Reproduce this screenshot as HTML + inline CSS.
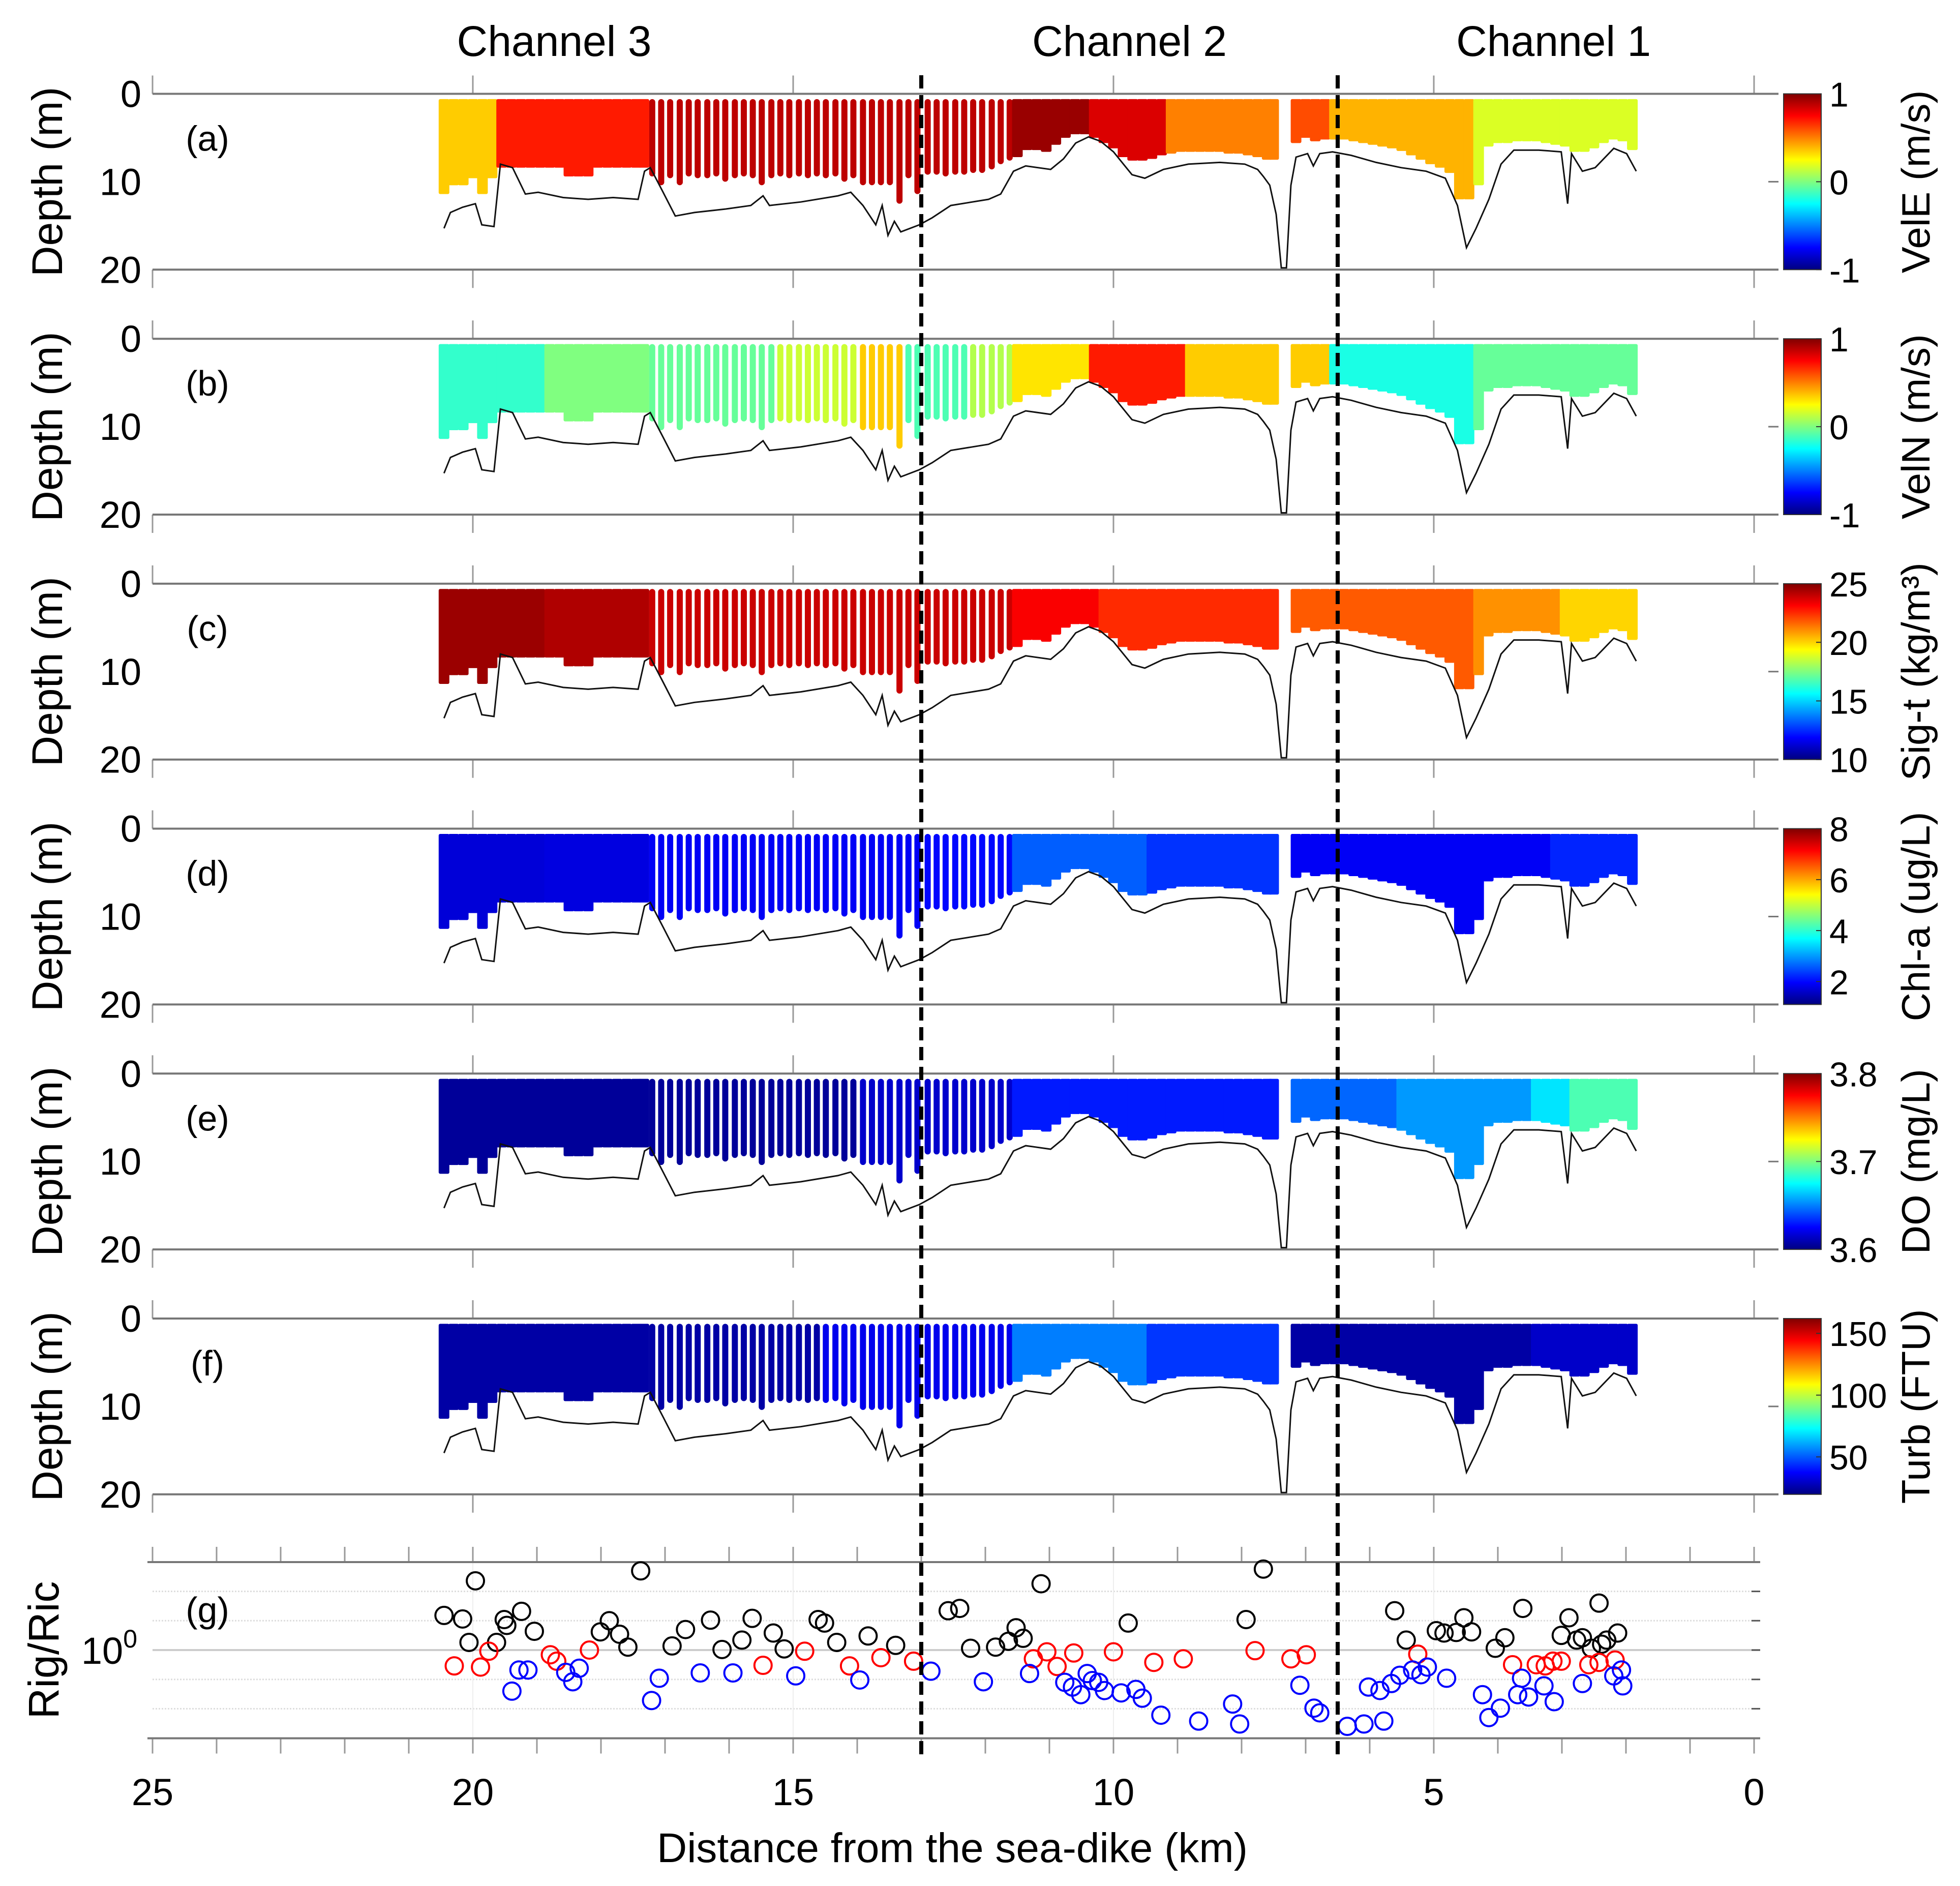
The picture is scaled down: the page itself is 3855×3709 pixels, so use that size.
<!DOCTYPE html>
<html><head><meta charset="utf-8">
<style>
html,body{margin:0;padding:0;background:#fff;}
svg{display:block;font-family:"Liberation Sans",Arial,sans-serif;}
</style></head>
<body>
<svg id="fig" width="3855" height="3709" viewBox="0 0 3855 3709" xmlns="http://www.w3.org/2000/svg">
<defs>
<linearGradient id="jet" x1="0" y1="1" x2="0" y2="0">
<stop offset="0" stop-color="#000080"/><stop offset="0.125" stop-color="#0000ff"/>
<stop offset="0.375" stop-color="#00ffff"/><stop offset="0.625" stop-color="#ffff00"/>
<stop offset="0.875" stop-color="#ff0000"/><stop offset="1" stop-color="#800000"/>
</linearGradient>
</defs>
<g id="root"></g>
</svg>
<script>
// ---------- data ----------
const channelNames = ["Channel 3","Channel 2","Channel 1"];
const channelKm = [18.73, 9.75, 3.13];
const xTicks = [25,20,15,10,5,0];
const dividerKm = [13.0, 6.5];

const profKm = [20.45,20.3,20.15,20.0,19.85,19.7,19.55,19.4,19.25,19.1,18.95,
18.8,18.65,18.5,18.35,18.2,18.05,17.9,17.75,17.6,17.45,17.33,
17.2,17.06,16.92,16.77,16.63,16.49,16.34,16.2,16.06,15.91,15.77,15.63,15.49,15.34,15.2,15.06,14.91,14.77,14.63,14.49,14.34,14.2,14.06,13.91,13.77,13.63,13.49,13.34,13.2,13.06,
12.9,12.76,12.62,12.47,12.33,12.19,12.05,11.9,11.76,11.62,
11.5,11.35,11.2,11.05,10.9,10.75,10.6,10.45,10.3,10.15,10.0,9.85,9.7,9.55,9.4,9.25,9.1,8.95,8.8,8.65,8.5,8.35,8.2,8.05,7.9,7.75,7.6,7.5,
7.15,7.0,6.85,6.7,6.55,6.4,6.25,6.1,5.95,5.8,5.65,5.5,5.35,5.2,5.05,4.9,4.75,4.6,4.45,4.3,4.15,4.0,3.85,3.7,3.55,3.4,3.25,3.1,2.95,2.8,2.65,2.5,2.35,2.2,2.05,1.9];
const profBot = [11.4,10.4,10.4,9.6,11.4,9.6,8.4,8.4,8.4,8.4,8.4,
8.4,8.4,9.4,9.4,9.4,8.4,8.4,8.4,8.4,8.4,8.4,
9.4,10.4,9.6,10.4,9.4,9.6,9.6,9.4,10.0,9.6,9.4,9.6,10.4,9.6,9.4,9.6,9.4,9.6,9.4,9.6,9.4,10.0,9.6,10.4,10.4,10.4,10.4,12.5,9.6,11.4,
9.2,9.2,9.4,9.2,9.2,9.0,9.0,8.6,8.0,7.6,
7.2,6.4,6.4,6.6,5.8,5.0,4.6,4.6,5.0,5.6,6.2,7.2,7.6,7.6,7.4,7.0,6.8,6.6,6.6,6.6,6.6,6.6,6.8,6.8,7.0,7.2,7.5,7.5,
5.6,5.0,5.4,5.2,5.2,5.2,5.4,5.6,5.8,6.0,6.2,6.5,7.0,7.5,8.0,8.4,9.0,12.0,12.0,10.4,6.0,5.6,5.6,5.4,5.4,5.4,5.6,5.8,6.0,6.6,6.6,6.2,5.6,5.2,5.4,6.4];
const contiguousRanges = [[20.46,18.9],[18.81,17.3],[11.51,7.45],[7.16,1.85]];

const bathKm = [20.45,20.35,20.16,19.96,19.86,19.67,19.57,19.38,19.18,18.98,18.59,18.20,17.81,17.42,17.32,17.23,17.03,16.84,16.54,16.05,15.66,15.47,15.37,14.88,14.30,14.10,13.91,13.71,13.61,13.52,13.42,13.32,13.03,12.83,12.54,11.95,11.76,11.56,11.37,10.98,10.78,10.59,10.39,10.20,10.00,9.80,9.71,9.51,9.22,8.83,8.34,7.95,7.75,7.66,7.56,7.46,7.38,7.30,7.23,7.15,6.97,6.88,6.78,6.58,6.29,5.90,5.51,5.12,4.82,4.63,4.49,4.34,4.14,3.95,3.75,3.36,3.01,2.91,2.85,2.68,2.48,2.19,1.99,1.84];
const bathDep = [15.3,13.5,12.9,12.5,14.9,15.1,8.0,8.4,11.4,11.2,11.8,12.0,11.8,12.0,8.8,8.4,11.2,13.9,13.5,13.1,12.7,11.6,12.7,12.3,11.6,11.2,12.7,14.9,12.7,16.1,14.5,15.7,14.9,14.1,12.7,12.0,11.4,8.8,8.2,8.6,7.4,5.6,4.9,5.4,6.6,8.4,9.2,9.6,8.6,8.0,7.8,8.0,8.6,9.4,10.4,13.7,19.8,19.8,10.4,7.2,6.8,8.2,6.8,6.6,7.0,7.8,8.4,8.8,9.6,12.7,17.5,15.3,12.0,8.0,6.4,6.4,6.6,12.5,6.8,8.8,8.4,6.2,6.8,8.8];

const aKm=[20.45,19.6,17.25,11.5,10.4,9.2,7.2,6.6,4.3];
const aVal=[0.35,0.7,0.88,0.95,0.82,0.5,0.6,0.4,0.18];
const bKm=[20.45,18.8,17.25,15.3,14.0,13.3,12.3,11.5,10.4,8.8,7.2,6.6,4.3];
const bVal=[-0.15,0.0,-0.05,0.15,0.35,-0.1,0.1,0.3,0.7,0.35,0.35,-0.2,-0.05];
const cKm=[20.45,18.8,17.25,11.5,10.2,7.2,4.3,3.0];
const cVal=[24.6,24.3,23.9,23.2,22.5,21.8,21.0,20.0];
const dKm=[20.45,18.8,17.25,13.0,11.5,9.5,7.2,3.2];
const dVal=[1.7,1.75,1.9,2.0,2.6,2.3,1.9,2.2];
const eKm=[20.45,14.0,11.5,7.2,5.5,3.5,2.9];
const eVal=[3.605,3.615,3.63,3.645,3.655,3.67,3.69];
const fKm=[20.45,14.5,11.5,9.5,7.2,3.5];
const fVal=[25,35,55,45,25,30];

const panelLetters=["(a)","(b)","(c)","(d)","(e)","(f)"];
const cbLabels=["VelE (m/s)","VelN (m/s)","Sig-t (kg/m\u00B3)","Chl-a (ug/L)","DO (mg/L)","Turb (FTU)"];
const cbMin=[-1,-1,10,1.1,3.6,19.7];
const cbMax=[1,1,25,8,3.8,162];
const cbTicks=[[-1,0,1],[-1,0,1],[10,15,20,25],[2,4,6,8],[3.6,3.7,3.8],[50,100,150]];
const depthTicks=[0,10,20];

const blackKm=[20.45,20.16,20.06,19.96,19.63,19.51,19.47,19.24,19.04,18.01,17.87,17.71,17.58,17.38,16.89,16.68,16.29,16.11,15.80,15.64,15.31,15.14,14.61,14.51,14.32,13.83,13.40,12.58,12.40,12.23,11.84,11.64,11.52,11.41,11.13,9.77,7.93,7.66,5.61,5.43,4.96,4.84,4.65,4.53,4.41,4.04,3.89,3.61,3.01,2.89,2.77,2.68,2.54,2.42,2.30,2.13,2.38];
const blackLog=[0.59,0.53,0.13,1.18,0.13,0.52,0.42,0.66,0.32,0.31,0.50,0.27,0.05,1.35,0.07,0.35,0.51,0.01,0.17,0.54,0.29,0.02,0.52,0.46,0.13,0.24,0.08,0.67,0.71,0.03,0.05,0.15,0.38,0.20,1.13,0.46,0.52,1.38,0.67,0.17,0.33,0.29,0.30,0.55,0.31,0.03,0.21,0.71,0.25,0.55,0.17,0.21,0.03,0.80,0.17,0.29,0.10];
const redKm=[20.29,19.88,19.75,18.79,18.69,18.18,15.47,14.82,14.12,13.63,13.12,11.25,11.04,10.88,10.62,10.00,9.37,8.91,7.79,7.23,6.99,5.25,3.77,3.40,3.26,3.14,3.01,2.58,2.42,2.17];
const redLog=[-0.27,-0.29,-0.02,-0.08,-0.19,0.00,-0.26,-0.02,-0.27,-0.13,-0.19,-0.15,-0.03,-0.28,-0.05,-0.03,-0.21,-0.15,-0.01,-0.15,-0.08,-0.07,-0.25,-0.25,-0.27,-0.19,-0.19,-0.25,-0.21,-0.17];
const blueKm=[19.39,19.28,19.14,18.55,18.44,18.34,17.21,17.09,16.45,15.94,14.96,13.96,12.85,12.03,11.31,10.76,10.64,10.51,10.41,10.33,10.23,10.14,9.88,9.65,9.55,9.26,8.67,8.14,8.03,7.09,6.87,6.78,6.35,6.09,5.78,6.02,5.84,5.66,5.53,5.33,5.10,5.20,4.80,4.24,4.14,3.96,3.69,3.63,3.52,3.28,3.12,2.68,2.19,2.05,2.07];
const blueLog=[-0.70,-0.34,-0.34,-0.38,-0.54,-0.31,-0.86,-0.48,-0.39,-0.39,-0.44,-0.51,-0.36,-0.54,-0.40,-0.55,-0.63,-0.76,-0.40,-0.52,-0.55,-0.69,-0.73,-0.67,-0.82,-1.11,-1.21,-0.92,-1.26,-0.60,-0.99,-1.07,-1.30,-1.26,-1.21,-0.63,-0.69,-0.57,-0.43,-0.34,-0.29,-0.42,-0.48,-0.76,-1.15,-0.99,-0.76,-0.48,-0.80,-0.61,-0.88,-0.57,-0.44,-0.61,-0.34];
const gGridLog=[-1,-0.5,0,0.5,1];

// ---------- drawing ----------
const NS="http://www.w3.org/2000/svg";
const root=document.getElementById("root");
function el(tag,attrs,parent){const e=document.createElementNS(NS,tag);for(const k in attrs)e.setAttribute(k,attrs[k]);(parent||root).appendChild(e);return e;}
const X=d=>300+(25-d)*126.0;
const PT=k=>184.5+481.7*k;
const PH=345.8;
const Y=(k,m)=>PT(k)+m*PH/20;
function jet(t){t=Math.max(0,Math.min(1,t));
 const r=Math.max(0,Math.min(1,Math.min(4*t-1.5,-4*t+4.5)));
 const g=Math.max(0,Math.min(1,Math.min(4*t-0.5,-4*t+3.5)));
 const b=Math.max(0,Math.min(1,Math.min(4*t+0.5,-4*t+2.5)));
 return `rgb(${Math.round(r*255)},${Math.round(g*255)},${Math.round(b*255)})`;}
function stepVal(ks,vs,km){let v=vs[0];for(let i=0;i<ks.length;i++){if(km<=ks[i]+1e-6)v=vs[i];}return v;}
function isContig(km){return contiguousRanges.some(r=>km<=r[0]&&km>=r[1]);}

channelNames.forEach((n,i)=>{
 const t=el("text",{x:X(channelKm[i]),y:110,"font-size":84,"text-anchor":"middle"});
 
 
 t.textContent=n;});

const fieldK=[[aKm,aVal],[bKm,bVal],[cKm,cVal],[dKm,dVal],[eKm,eVal],[fKm,fVal]];
for(let k=0;k<6;k++){
 const g=el("g",{});
 
 
 const top=PT(k),bot=top+PH;
 xTicks.forEach(d=>{
  el("line",{x1:X(d),x2:X(d),y1:top-36,y2:top,stroke:"#999","stroke-width":3},g);
  el("line",{x1:X(d),x2:X(d),y1:bot,y2:bot+36,stroke:"#999","stroke-width":3},g);});
 const [ks,vs]=fieldK[k];
 profKm.forEach((km,i)=>{
  const c=isContig(km);const w=c?21:12;
  const v=stepVal(ks,vs,km);
  const t=(v-cbMin[k])/(cbMax[k]-cbMin[k]);
  const r=el("rect",{x:X(km)-w/2,y:Y(k,0.6),width:w,height:Y(k,profBot[i])-Y(k,0.6),rx:c?3:6,fill:jet(t)},g);
  
  });
 let dstr="";bathKm.forEach((km,i)=>{dstr+=(i?"L":"M")+X(km).toFixed(1)+","+Y(k,Math.min(20,bathDep[i])).toFixed(1);});
 const p=el("path",{d:dstr,fill:"none",stroke:"#111","stroke-width":3},g);
 
 
 el("line",{x1:300,x2:3498,y1:top,y2:top,stroke:"#777","stroke-width":4},g);
 el("line",{x1:300,x2:3498,y1:bot,y2:bot,stroke:"#777","stroke-width":4},g);
 el("line",{x1:3478,x2:3498,y1:Y(k,10),y2:Y(k,10),stroke:"#777","stroke-width":3},g);
 depthTicks.forEach(d=>{
  const t=el("text",{x:278,y:Y(k,d)+26,"font-size":74,"text-anchor":"end"},g);
  
  
  t.textContent=d;});
 const yl=el("text",{x:0,y:0,"font-size":84,"text-anchor":"middle",transform:`translate(122,${top+PH/2}) rotate(-90)`},g);
 
 
 yl.textContent="Depth (m)";
 const pl=el("text",{x:408,y:top+112,"font-size":70,"text-anchor":"middle"},g);
 
 
 pl.textContent=panelLetters[k];
 const cb=el("rect",{x:3508,y:top,width:74,height:PH,fill:"url(#jet)",stroke:"#333","stroke-width":2},g);
 
 
 cbTicks[k].forEach(v=>{
  const yy=bot-(v-cbMin[k])/(cbMax[k]-cbMin[k])*PH;
  el("line",{x1:3572,x2:3582,y1:yy,y2:yy,stroke:"#333","stroke-width":2},g);
  const t=el("text",{x:3598,y:yy+25,"font-size":68},g);
  
  
  t.textContent=v;});
 const cl=el("text",{x:0,y:0,"font-size":78,"text-anchor":"middle",transform:`translate(3795,${top+PH/2}) rotate(-90)`},g);
 
 
 cl.textContent=cbLabels[k];
}

const GT=3072,GB=3418.5;
const Yg=l=>3245-l*115.4;
const gg=el("g",{});


gGridLog.forEach(l=>{
 el("line",{x1:300,x2:3462,y1:Yg(l),y2:Yg(l),stroke:l===0?"#ccc":"#ddd","stroke-width":l===0?4:3,"stroke-dasharray":l===0?"":"3,3"},gg);
 el("line",{x1:3445,x2:3462,y1:Yg(l),y2:Yg(l),stroke:"#555","stroke-width":3},gg);});
[20,15,10,5].forEach(d=>el("line",{x1:X(d),x2:X(d),y1:GT,y2:GB,stroke:"#eee","stroke-width":2},gg));
for(let d=0;d<=25;d++){
 el("line",{x1:X(d),x2:X(d),y1:GT-30,y2:GT,stroke:"#999","stroke-width":3},gg);
 el("line",{x1:X(d),x2:X(d),y1:GB,y2:GB+30,stroke:"#999","stroke-width":3},gg);}
el("line",{x1:290,x2:3462,y1:GT,y2:GT,stroke:"#777","stroke-width":4},gg);
el("line",{x1:290,x2:3462,y1:GB,y2:GB,stroke:"#777","stroke-width":4},gg);
function drawPts(ks,ls,col,name){ks.forEach((km,i)=>{
 const c=el("circle",{cx:X(km),cy:Yg(ls[i]),r:17,fill:"none",stroke:col,"stroke-width":4},gg);
 
 });}
drawPts(blackKm,blackLog,"#000","ri-point-black");
drawPts(redKm,redLog,"#f00","ri-point-red");
drawPts(blueKm,blueLog,"#00f","ri-point-blue");
const gl=el("text",{x:408,y:3190,"font-size":70,"text-anchor":"middle"},gg);


gl.textContent="(g)";
const yt=el("text",{x:270,y:3272,"font-size":74,"text-anchor":"end"},gg);


yt.innerHTML='10<tspan dy="-32" font-size="50">0</tspan>';
const gy=el("text",{x:0,y:0,"font-size":84,"text-anchor":"middle",transform:`translate(115,3245) rotate(-90)`},gg);


gy.textContent="Rig/Ric";
xTicks.forEach(d=>{
 const t=el("text",{x:X(d),y:3550,"font-size":74,"text-anchor":"middle"},gg);
 
 
 t.textContent=d;});
const xt=el("text",{x:1873,y:3662,"font-size":82,"text-anchor":"middle"});


xt.textContent="Distance from the sea-dike (km)";

dividerKm.forEach(d=>{
 const l=el("line",{x1:X(d),x2:X(d),y1:148,y2:3455,stroke:"#000","stroke-width":8,"stroke-dasharray":"26,13"});
 
 });
</script>
</body></html>
